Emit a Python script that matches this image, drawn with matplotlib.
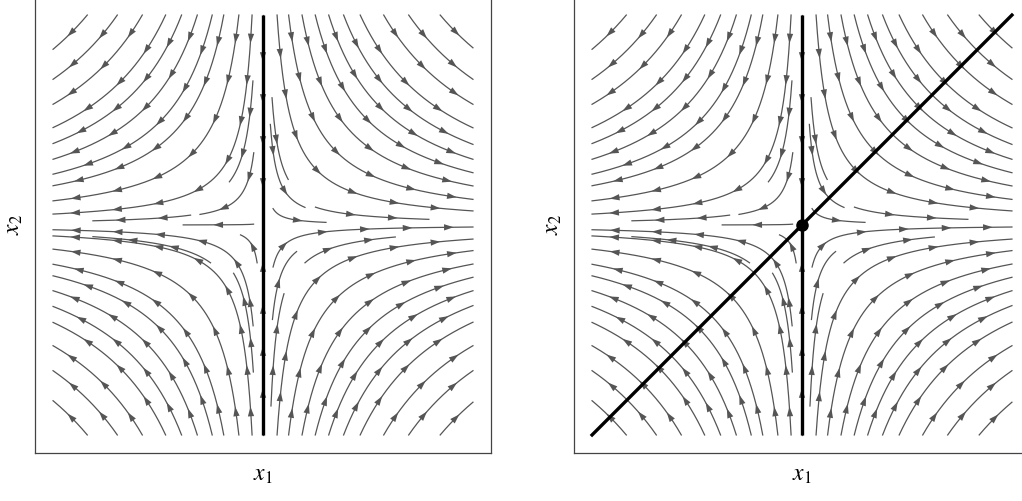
import numpy as np
import matplotlib.pyplot as plt
from matplotlib.patches import Polygon

plt.rcParams['mathtext.fontset'] = 'stix'
plt.rcParams['font.family'] = ['Liberation Serif', 'DejaVu Serif']

# saddle x1' = x1, x2' = -x2 ; stream lines are x1*x2 = const
# |x1| where the lines enter through the top / bottom edge
entry_left = [0.837, 0.694, 0.575, 0.464, 0.388, 0.313, 0.242, 0.187, 0.115, 0.052]
entry_right = [0.844, 0.694, 0.575, 0.463, 0.384, 0.313, 0.249, 0.186, 0.122, 0.067]
# lines that start inside the box: (x1_start, x2_start, x1_end)
inner_ul = [(-0.048, 0.686, -0.16), (-0.044, 0.344, -0.30),
            (-0.045, 0.004, -0.38), (-0.345, 0.047, -0.81)]
inner_ll = [(-0.047, -0.48, -1.0), (-0.028, -0.18, -0.107),
            (-0.25, -0.18, -0.81), (-0.046, -0.70, -0.14)]
inner_ur = [(0.043, 0.606, 0.12), (0.035, 0.479, 0.20),
            (0.048, 0.078, 0.30), (0.25, 0.085, 0.79)]
inner_lr = [(0.048, -0.20, 1.0), (0.20, -0.18, 0.63),
            (0.038, -0.862, 0.10), (0.045, -0.45, 0.16)]

lim = 1.0
pad = 1.086
stream_gray = '#555555'
arrow_gap = 0.2


def seeds_all():
    out = []
    for sy in (-1, 1):
        out += [(-s, sy * 1.0, -1.0) for s in entry_left]
        out += [(s, sy * 1.0, 1.0) for s in entry_right]
    return out + inner_ul + inner_ll + inner_ur + inner_lr


def trace(x0, y0, xe):
    t = np.linspace(0, np.log(xe / x0), 400)
    x = x0 * np.exp(t)
    y = y0 * np.exp(-t)
    keep = np.abs(y) <= lim + 1e-9
    return x[keep], y[keep]


def draw_line(ax, x, y, phase=0.5):
    ax.plot(x, y, color=stream_gray, lw=0.9, zorder=2)
    d = np.hypot(np.diff(x), np.diff(y))
    s = np.concatenate([[0], np.cumsum(d)])
    total = s[-1]
    n = max(1, int(total / arrow_gap))
    start = (total - (n - 1) * arrow_gap) * phase if n > 1 else total * 0.5
    for k in range(n):
        p = start + k * arrow_gap
        if p > total:
            break
        i = np.searchsorted(s, p)
        i = min(max(i, 1), len(s) - 1)
        tx, ty = x[i] - x[i - 1], y[i] - y[i - 1]
        nrm = np.hypot(tx, ty)
        if nrm == 0:
            continue
        tx, ty = tx / nrm, ty / nrm
        L, W = 0.046, 0.015
        tip = (x[i] + tx * L / 2, y[i] + ty * L / 2)
        base = (x[i] - tx * L / 2, y[i] - ty * L / 2)
        tri = [tip, (base[0] - ty * W, base[1] + tx * W),
               (base[0] + ty * W, base[1] - tx * W)]
        ax.add_patch(Polygon(tri, closed=True, color=stream_gray, lw=0, zorder=3))


fig = plt.figure(figsize=(10.22, 5.01), dpi=100)
ax1 = fig.add_axes([35 / 1022, 1 - 453 / 501, 456 / 1022, 456 / 501])
ax2 = fig.add_axes([574 / 1022, 1 - 453 / 501, 456 / 1022, 456 / 501])

for ax in (ax1, ax2):
    for (a, b, e) in seeds_all():
        x, y = trace(a, b, e)
        if len(x) > 2:
            draw_line(ax, x, y)
    # stream lines on the stable axis
    draw_line(ax, np.zeros(50), np.linspace(lim, 0.02, 50))
    draw_line(ax, np.zeros(50), np.linspace(-lim, -0.02, 50))
    ax.plot([0, 0], [-lim, lim], color='black', lw=2.4, solid_capstyle='butt', zorder=4)
    ax.set_xlim(-pad, pad)
    ax.set_ylim(-pad, pad)
    ax.set_xticks([])
    ax.set_yticks([])
    for sp in ax.spines.values():
        sp.set_color('#444444')
        sp.set_linewidth(0.9)
    ax.set_xlabel(r'$x_1$', fontsize=17, labelpad=9)
    ax.set_ylabel(r'$x_2$', fontsize=17, labelpad=7)

ax2.plot([-lim, lim], [-lim, lim], color='black', lw=2.4, zorder=4)
ax2.plot([0], [0], 'o', color='black', ms=8, zorder=5)

fig.savefig('out.png', dpi=100)
